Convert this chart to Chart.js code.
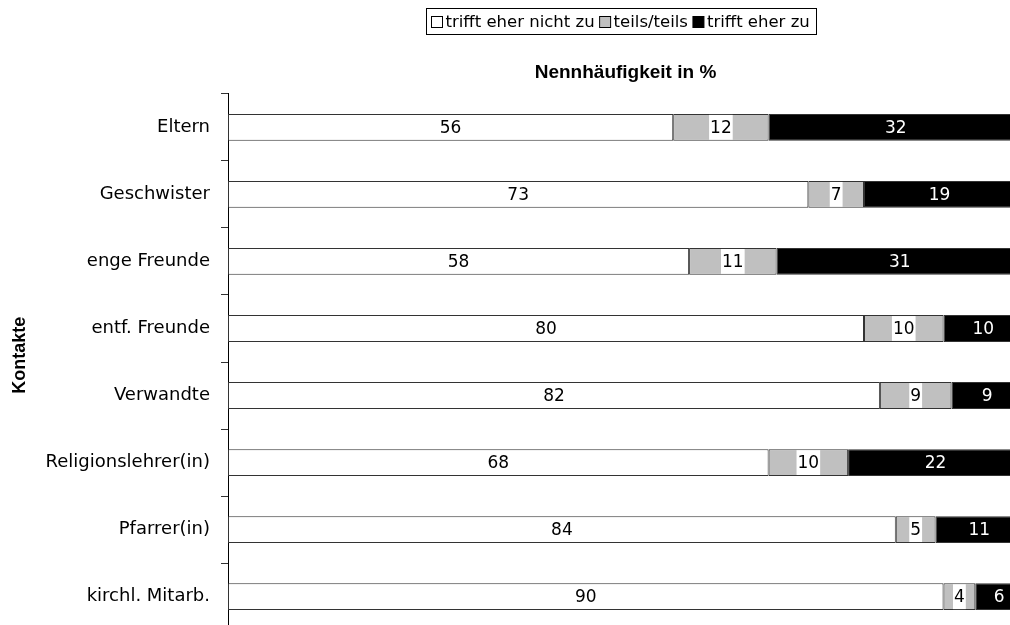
<!DOCTYPE html>
<html>
<head>
<meta charset="utf-8">
<script src="https://cdn.jsdelivr.net/npm/chart.js@4.4.1/dist/chart.umd.min.js"></script>
<style>
  html, body { margin: 0; padding: 0; background: #fff; overflow: hidden; width: 1010px; height: 625px; }
  #wrap { position: absolute; left: 0; top: 0; width: 1040px; height: 652px; }
</style>
</head>
<body>
<div id="wrap"><canvas id="c" width="1040" height="652"></canvas></div>
<script>
const categories = ['Eltern', 'Geschwister', 'enge Freunde', 'entf. Freunde', 'Verwandte', 'Religionslehrer(in)', 'Pfarrer(in)', 'kirchl. Mitarb.'];
const seriesNames = ['trifft eher nicht zu', 'teils/teils', 'trifft eher zu'];
const notAgree = [56, 73, 58, 80, 82, 68, 84, 90];
const neutral = [12, 7, 11, 10, 9, 10, 5, 4];
const agree = [32, 19, 31, 10, 9, 22, 11, 6];
const seriesColors = ['#ffffff', '#c0c0c0', '#000000'];
const labelColors = ['#000000', '#000000', '#ffffff'];
const chartTitle = 'Nennhäufigkeit in %';
const axisTitle = 'Kontakte';

const FONT = '"DejaVu Sans", sans-serif';
const BOLD = '"Liberation Sans", Arial, sans-serif';

const labelPlugin = {
  id: 'barLabels',
  afterDatasetsDraw(chart) {
    const ctx = chart.ctx;
    ctx.save();
    ctx.font = '17px ' + FONT;
    ctx.textAlign = 'center';
    ctx.textBaseline = 'middle';
    chart.data.datasets.forEach((ds, i) => {
      const meta = chart.getDatasetMeta(i);
      meta.data.forEach((bar, j) => {
        const p = bar.getProps(['x', 'y', 'base', 'height'], true);
        const cx = (p.x + p.base) / 2;
        const txt = String(ds.data[j]);
        const w = ctx.measureText(txt).width;
        if (i === 1) {
          ctx.fillStyle = '#ffffff';
          ctx.fillRect(cx - w / 2 - 1, p.y - p.height / 2 + 1, w + 2, p.height - 2);
        }
        ctx.fillStyle = labelColors[i];
        ctx.fillText(txt, cx, p.y + 1);
      });
    });
    ctx.restore();
  }
};

const legendPlugin = {
  id: 'boxLegend',
  afterDraw(chart) {
    const ctx = chart.ctx;
    const ca = chart.chartArea;
    ctx.save();
    // axis title
    ctx.font = 'bold 18px ' + BOLD;
    ctx.fillStyle = '#000';
    ctx.textAlign = 'center';
    ctx.textBaseline = 'middle';
    ctx.translate(20, ca.top + 261.5);
    ctx.rotate(-Math.PI / 2);
    ctx.fillText(axisTitle, 0, 0);
    ctx.setTransform(1, 0, 0, 1, 0, 0);
    // legend
    ctx.font = '16.5px ' + FONT;
    ctx.textBaseline = 'middle';
    ctx.textAlign = 'left';
    const sq = 11, gapT = 3, gapI = 5, padL = 5, padR = 7;
    const widths = seriesNames.map(n => ctx.measureText(n).width);
    let total = padL + padR;
    widths.forEach((w, i) => { total += sq + gapT + w + (i < widths.length - 1 ? gapI : 0); });
    const cxm = (ca.left + ca.right) / 2 - 4;
    const left = Math.round(cxm - total / 2) + 0.5;
    const top = 8.5, h = 26, mid = top + h / 2;
    ctx.strokeStyle = '#000';
    ctx.lineWidth = 1;
    ctx.strokeRect(left, top, Math.round(total), h);
    let x = left + padL;
    seriesNames.forEach((n, i) => {
      const sy = Math.round(mid - sq / 2) + 0.5;
      ctx.fillStyle = seriesColors[i];
      ctx.fillRect(x, sy, sq, sq);
      ctx.strokeStyle = '#000';
      ctx.strokeRect(x, sy, sq, sq);
      ctx.fillStyle = '#000';
      ctx.fillText(n, x + sq + gapT, mid + 1);
      x += sq + gapT + widths[i] + gapI;
    });
    ctx.restore();
  }
};

new Chart(document.getElementById('c'), {
  type: 'bar',
  data: {
    labels: categories,
    datasets: [
      { label: seriesNames[0], data: notAgree, backgroundColor: seriesColors[0] },
      { label: seriesNames[1], data: neutral, backgroundColor: seriesColors[1] },
      { label: seriesNames[2], data: agree, backgroundColor: seriesColors[2] }
    ].map(d => Object.assign(d, { borderColor: '#333333', borderWidth: 1, borderSkipped: false, barPercentage: 0.4, categoryPercentage: 1 }))
  },
  options: {
    indexAxis: 'y',
    responsive: false,
    animation: false,
    devicePixelRatio: 1,
    layout: { padding: { top: 50, right: 17, bottom: 11, left: 0 } },
    plugins: {
      legend: { display: false },
      tooltip: { enabled: false },
      title: {
        display: true,
        text: chartTitle,
        fullSize: false,
        color: '#000',
        font: { family: BOLD, size: 19, weight: 'bold' },
        padding: { top: 11, bottom: 10 }
      }
    },
    scales: {
      x: {
        stacked: true,
        min: 0,
        max: 100,
        display: false
      },
      y: {
        stacked: true,
        offset: true,
        grid: { display: true, drawOnChartArea: false, drawTicks: true, tickLength: 7, color: '#333', offset: true },
        border: { display: true, color: '#000', width: 1 },
        ticks: { color: '#000', padding: 11, font: { family: FONT, size: 18 } },
        title: { display: false },
        afterFit(scale) { scale.width = 228; }
      }
    }
  },
  plugins: [labelPlugin, legendPlugin]
});
</script>
</body>
</html>
